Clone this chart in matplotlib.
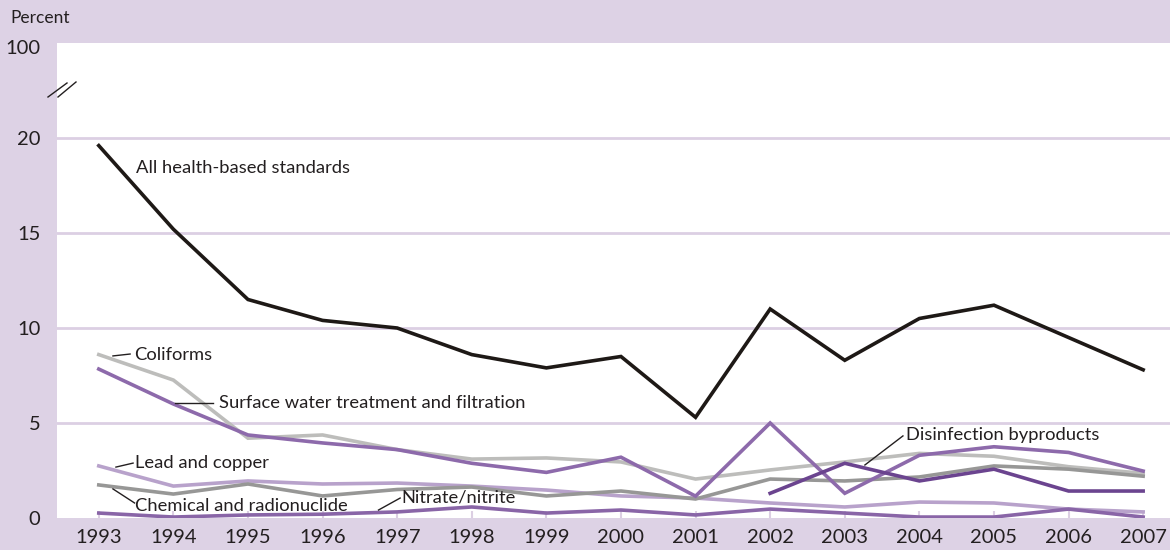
import matplotlib
matplotlib.use("Agg")
import matplotlib.pyplot as plt

years = list(range(1993, 2008))

all_health = [19.6, 15.2, 11.5, 10.4, 10.0, 8.6, 7.9, 8.5, 5.3, 11.0, 8.3, 10.5, 11.2, 9.5, 7.8]
coliforms = [8.6, 7.26, 4.2, 4.37, 3.6, 3.1, 3.16, 2.95, 2.05, 2.53, 2.95, 3.4, 3.25, 2.7, 2.35]
surface_water = [7.84, 6.0, 4.37, 3.95, 3.6, 2.88, 2.4, 3.2, 1.15, 5.0, 1.3, 3.3, 3.75, 3.45, 2.47]
disinf_years = [2002, 2003, 2004, 2005, 2006, 2007]
disinfection = [1.3, 2.88, 1.95, 2.57, 1.42, 1.42]
chemical = [1.74, 1.26, 1.79, 1.16, 1.5, 1.63, 1.16, 1.42, 1.0, 2.05, 1.95, 2.16, 2.74, 2.57, 2.2]
lead_copper = [2.74, 1.68, 1.95, 1.79, 1.84, 1.68, 1.47, 1.16, 1.05, 0.79, 0.58, 0.84, 0.79, 0.47, 0.32]
nitrate = [0.26, 0.05, 0.16, 0.2, 0.32, 0.58, 0.26, 0.42, 0.16, 0.47, 0.26, 0.05, 0.05, 0.47, 0.05]

ytick_vals = [0, 5, 10, 15, 20, 24.79]
ytick_labels = ["0", "5", "10", "15", "20", "100"]
grid_vals = [5, 10, 15, 20]

LAV = "#ddd2e5"
GRID = "#dccfe3"
TXT = "#231f20"
FONT = ["Lato", "DejaVu Sans"]
FS = 13.2
FS_TICK = 14.5

plt.rcParams["font.family"] = FONT

fig = plt.figure(figsize=(11.7, 5.5), dpi=100, facecolor=LAV)
W, H = 1170, 550
ax = fig.add_axes([57 / W, (H - 518) / H, (1170 - 57) / W, (518 - 43) / H])
ax.set_facecolor("white")
ax.set_axisbelow(True)
for s in ax.spines.values():
    s.set_visible(False)

ax.set_xlim(1992.44, 2007.36)
ax.set_ylim(0, 25)

for g in grid_vals:
    ax.axhline(g, color=GRID, lw=2, zorder=0.6)

lw = 2.6
ax.plot(years, all_health, color="#1e1916", lw=lw, solid_joinstyle="miter", zorder=3)
ax.plot(years, coliforms, color="#bdbdbb", lw=lw, solid_joinstyle="miter", zorder=2)
ax.plot(years, chemical, color="#979796", lw=lw, solid_joinstyle="miter", zorder=2.1)
ax.plot(years, lead_copper, color="#b8a2cb", lw=lw, solid_joinstyle="miter", zorder=2.05)
ax.plot(years, surface_water, color="#8d6aab", lw=lw, solid_joinstyle="miter", zorder=2.2)
ax.plot(disinf_years, disinfection, color="#6b448f", lw=lw, solid_joinstyle="miter", zorder=2.3)
ax.plot(years, nitrate, color="#8965a7", lw=lw, solid_joinstyle="miter", zorder=2.2)

ax.set_xticks(years)
ax.set_xticklabels([str(y) for y in years], fontsize=FS_TICK, color=TXT)
ax.tick_params(axis="x", direction="in", length=5, width=1.5, color=GRID, pad=8)
ax.set_yticks(ytick_vals)
ax.set_yticklabels(ytick_labels, fontsize=FS_TICK, color=TXT)
ax.tick_params(axis="y", length=0, pad=12)

# axis break marks
fig.add_artist(plt.Line2D([48 / W, 67 / W], [1 - 97 / H, 1 - 83 / H], color=TXT, lw=1))
fig.add_artist(plt.Line2D([58 / W, 76 / W], [1 - 97 / H, 1 - 82 / H], color=TXT, lw=1))

fig.text(10 / W, 1 - 18 / H, "Percent", fontsize=12.5, color=TXT, va="center", ha="left")

labels = [
    ("All health-based standards", 1993.50, 18.42, None),
    ("Coliforms", 1993.48, 8.58, ((1993.19, 8.53), (1993.42, 8.63))),
    ("Surface water treatment and filtration", 1994.61, 6.05, ((1994.02, 6.05), (1994.53, 6.05))),
    ("Lead and copper", 1993.48, 2.89, ((1993.23, 2.68), (1993.46, 2.89))),
    ("Chemical and radionuclide", 1993.48, 0.63, ((1993.19, 1.53), (1993.48, 0.79))),
    ("Nitrate/nitrite", 1997.06, 1.10, ((1996.75, 0.42), (1997.04, 1.05))),
    ("Disinfection byproducts", 2003.82, 4.37, ((2003.27, 2.79), (2003.78, 4.32))),
]
for text, x, y, leader in labels:
    ax.text(x, y, text, fontsize=FS, color=TXT, ha="left", va="center", zorder=5)
    if leader is not None:
        (x0, y0), (x1, y1) = leader
        ax.plot([x0, x1], [y0, y1], color=TXT, lw=1, zorder=5)

fig.savefig("out.png", dpi=100, facecolor=LAV)
